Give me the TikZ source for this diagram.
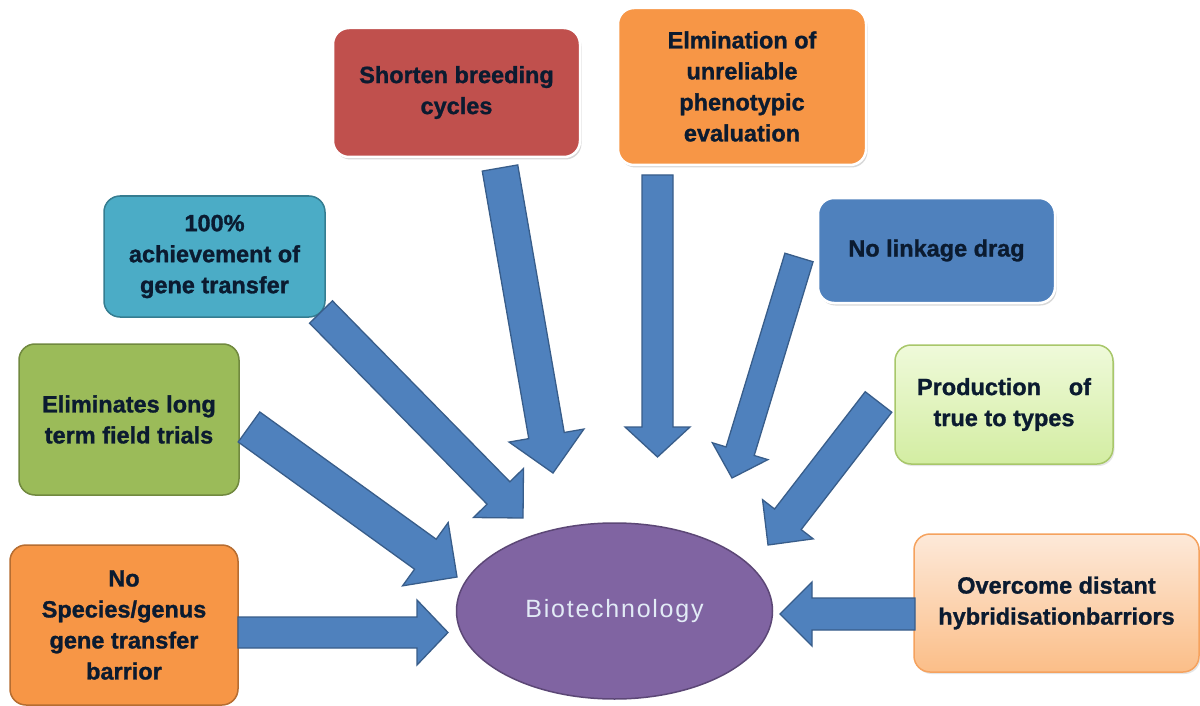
\documentclass[tikz,border=0pt]{standalone}
\usepackage{fontspec}
\setmainfont{Liberation Sans}
\usetikzlibrary{calc,shadows,shapes.geometric}
\definecolor{txt}{HTML}{0B1B30}
\definecolor{arrfill}{HTML}{4F81BD}
\definecolor{arrdraw}{HTML}{385D8A}
\definecolor{orgfill}{HTML}{F79646}
\definecolor{orgdraw}{HTML}{B66D31}
\definecolor{grnfill}{HTML}{9BBB59}
\definecolor{grndraw}{HTML}{71893F}
\definecolor{tealfill}{HTML}{4BACC6}
\definecolor{tealdraw}{HTML}{357D91}
\definecolor{redfill}{HTML}{C0504D}
\definecolor{bluefill}{HTML}{4F81BD}
\definecolor{ltgrntop}{HTML}{EFFADA}
\definecolor{ltgrnbot}{HTML}{D3EDA2}
\definecolor{ltgrndraw}{HTML}{A8C76A}
\definecolor{peachtop}{HTML}{FDE9D9}
\definecolor{peachbot}{HTML}{FBBE88}
\definecolor{peachdraw}{HTML}{F5A25E}
\definecolor{purfill}{HTML}{8064A2}
\definecolor{purdraw}{HTML}{5C4776}
\definecolor{biotxt}{HTML}{E2EBF6}
\newcommand\barrow[5]{%
  \coordinate (nk) at ($(#2)!#5!(#1)$);
  \draw[blockarr] ($(#1)!#3!90:(#2)$) -- ($(nk)!#3!90:(#2)$) -- ($(nk)!#4!90:(#2)$) -- (#2)
    -- ($(nk)!#4!-90:(#2)$) -- ($(nk)!#3!-90:(#2)$) -- ($(#1)!#3!-90:(#2)$) -- cycle;}
\begin{document}
\begin{tikzpicture}[x=1pt,y=-1pt,
  box/.style={rounded corners=16pt, align=center, inner sep=0pt, line width=1.5pt, text=txt,
    font=\bfseries\fontsize{23.5}{31}\selectfont\addfontfeature{FakeBold=1.2}},
  glowbox/.style={box, draw=white, line width=2.5pt,
    drop shadow={shadow xshift=1.5pt, shadow yshift=-2.5pt, opacity=0.3}},
  softbox/.style={box, drop shadow={shadow xshift=1.5pt, shadow yshift=-2pt, opacity=0.2}},
  blockarr/.style={fill=arrfill, draw=arrdraw, line width=1.3pt, line join=miter}]
\fill[white] (0,0) rectangle (1200,706);
\useasboundingbox (0,0) rectangle (1200,706);

% boxes
\node[box, fill=orgfill, draw=orgdraw, minimum width=228pt, minimum height=160pt] (b1) at (124,625)
  {No\\Species/genus\\gene transfer\\barrior};
\node[box, fill=grnfill, draw=grndraw, minimum width=220pt, minimum height=151pt] (b2) at (129,419.5)
  {Eliminates long\\term field trials};
\node[box, fill=tealfill, draw=tealdraw, minimum width=221pt, minimum height=121pt] (b3) at (214.5,256.5)
  {100\%\\achievement of\\gene transfer};
\node[glowbox, fill=redfill, minimum width=247pt, minimum height=129pt] (b4) at (456.5,92.5)
  {Shorten breeding\\cycles};
\node[glowbox, fill=orgfill, minimum width=248pt, minimum height=157pt] (b5) at (742,86.5)
  {Elmination of\\unreliable\\phenotypic\\evaluation};
\node[glowbox, fill=bluefill, minimum width=237pt, minimum height=105pt] (b6) at (936.5,250.5)
  {No linkage drag};
\node[softbox, top color=ltgrntop, bottom color=ltgrnbot, draw=ltgrndraw, minimum width=218pt, minimum height=119pt] (b7) at (1004,404.5)
  {\makebox[174pt]{Production\hfill of}\\true to types};
\node[softbox, top color=peachtop, bottom color=peachbot, draw=peachdraw, minimum width=285pt, minimum height=138pt] (b8) at (1056.5,603)
  {Overcome distant\\hybridisationbarriors};

% centre
\node[ellipse, fill=purfill, draw=purdraw, line width=1.5pt, minimum width=316pt, minimum height=176pt, inner sep=0pt,
  text=biotxt, font=\fontsize{25}{30}\selectfont\addfontfeature{LetterSpace=7}] (bio) at (614.5,611) {Biotechnology};

% arrow end points
\coordinate (s1) at (238,632.5);   \coordinate (t1) at (448,632.5);
\coordinate (s2) at (249,427);     \coordinate (t2) at (457,577);
\coordinate (s3) at (321,312);     \coordinate (t3) at (523,518);
\coordinate (s4) at (500,168);     \coordinate (t4) at (553,473);
\coordinate (s5) at (657.5,175);   \coordinate (t5) at (657.5,457);
\coordinate (s6) at (799,257.5);   \coordinate (t6) at (732,478);
\coordinate (s7) at (878.5,402);   \coordinate (t7) at (768,545);
\coordinate (s8) at (915,614);     \coordinate (t8) at (780,614);

\barrow{s1}{t1}{15.5pt}{32.5pt}{31pt}
\barrow{s2}{t2}{18.5pt}{39pt}{39pt}
\barrow{s3}{t3}{16pt}{35pt}{35pt}
\barrow{s4}{t4}{18pt}{38pt}{38pt}
\barrow{s5}{t5}{15.5pt}{32.5pt}{30pt}
\barrow{s6}{t6}{14.7pt}{29pt}{28pt}
\barrow{s7}{t7}{16.8pt}{32pt}{32.5pt}
\barrow{s8}{t8}{16pt}{32pt}{32pt}
\end{tikzpicture}
\end{document}
